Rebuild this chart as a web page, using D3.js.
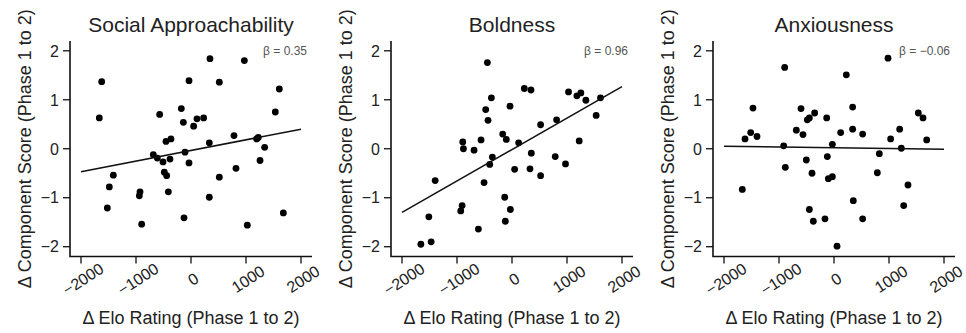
<!DOCTYPE html>
<html>
<head>
<meta charset="utf-8">
<script src="https://cdn.jsdelivr.net/npm/d3@7"></script>
<style>
  body { margin: 0; background: #fff; }
  svg { font-family: "Liberation Sans", Arial, sans-serif; }
</style>
</head>
<body>
<svg id="canvas" width="966" height="333"></svg>
<script>
// values
let titles = ["Social Approachability", "Boldness", "Anxiousness"]
let betas = ["β = 0.35", "β = 0.96", "β = −0.06"]
let xTicks = [-2000, -1000, 0, 1000, 2000]
let yTicks = [-2, -1, 0, 1, 2]

let socialX = [-1624, -1667, -1412, -1485, -1521, -927, -939, -897, -570, -685, -612, -509, -455, -364, -485, -442, -382, -412, -176, -139, -109, -127, -36, -36, 48, 109, 230, 345, 333, 333, 515, 515, 782, 818, 970, 1024, 1194, 1224, 1339, 1255, 1533, 1606, 1679]
let socialY = [1.37, 0.63, -0.54, -0.78, -1.21, -0.88, -0.96, -1.54, 0.70, -0.12, -0.19, -0.27, 0.15, 0.20, -0.48, -0.55, -0.21, -0.88, 0.82, 0.54, -0.07, -1.41, 1.39, -0.29, 0.46, 0.61, 0.63, 1.84, 0.12, -0.99, 1.36, -0.58, 0.27, -0.40, 1.80, -1.56, 0.20, 0.23, 0.03, -0.24, 0.75, 1.22, -1.31]

let boldX = [-1657, -1470, -1512, -1397, -895, -883, -907, -932, -690, -611, -563, -508, -478, -436, -448, -375, -357, -405, -169, -103, -133, -121, -30, -36, 121, 48, 224, 345, 351, 327, 520, 520, 811, 786, 973, 1028, 1180, 1252, 1343, 1222, 1530, 1609]
let boldY = [-1.95, -1.90, -1.39, -0.65, 0.14, 0.00, -1.16, -1.27, -0.03, -1.64, 0.18, -0.69, 0.80, 0.58, 1.76, 1.04, -0.17, -0.32, 0.30, 0.19, -0.99, -1.48, -1.24, 0.87, 0.12, -0.42, 1.23, 1.20, -0.09, -0.41, 0.49, -0.55, 0.59, -0.16, -0.31, 1.16, 1.08, 1.14, 0.99, 0.16, 0.68, 1.04]

let anxX = [-1667, -1618, -1515, -1400, -1473, -897, -915, -885, -685, -600, -564, -503, -485, -448, -352, -400, -448, -376, -164, -133, -121, -103, -30, -30, 55, 121, 224, 339, 339, 351, 521, 521, 824, 788, 982, 1030, 1194, 1224, 1345, 1267, 1533, 1618, 1685]
let anxY = [-0.83, 0.20, 0.33, 0.25, 0.83, 1.66, 0.06, -0.38, 0.38, 0.82, 0.29, -0.23, 0.59, 0.63, 0.73, -0.50, -1.24, -1.48, -1.43, 0.63, -0.16, -0.61, -0.57, 0.09, -1.99, 0.33, 1.51, 0.85, 0.40, -1.06, 0.30, -1.43, -0.10, -0.49, 1.85, 0.20, 0.40, 0.01, -0.74, -1.16, 0.73, 0.63, 0.18]

// fitted line: y at x = -2000 and at x = 2000
let fitStart = [-0.47, -1.30, 0.05]
let fitEnd = [0.40, 1.27, -0.01]

let pointsX = [socialX, boldX, anxX]
let pointsY = [socialY, boldY, anxY]

let canvas = d3.select("#canvas")
let offsets = [0, 321, 643]

let minus = (d) => d < 0 ? "−" + Math.abs(d) : d

let drawPanel = (p) => {
    let ox = offsets[p]
    let xScale = d3.scaleLinear().domain([-2200, 2200]).range([ox + 70, ox + 312])
    let yScale = d3.scaleLinear().domain([-2.2, 2.2]).range([256.5, 41])

    let g = canvas.append("g")

    // L shaped box (bty = "l")
    g.append("path")
        .attr("d", "M" + xScale(-2200) + "," + yScale(2.2) + "V" + yScale(-2.2) + "H" + xScale(2200))
        .attr("fill", "none")
        .attr("stroke", "#111")
        .attr("stroke-width", 1.6)

    // y ticks
    g.selectAll(".ytick")
        .data(yTicks)
        .enter()
        .append("line")
        .attr("x1", xScale(-2200))
        .attr("x2", xScale(-2200) - 7)
        .attr("y1", d => yScale(d))
        .attr("y2", d => yScale(d))
        .attr("stroke", "#111")
        .attr("stroke-width", 1.3)

    g.selectAll(".ylab")
        .data(yTicks)
        .enter()
        .append("text")
        .attr("x", xScale(-2200) - 11)
        .attr("y", d => yScale(d))
        .attr("dy", "0.36em")
        .attr("text-anchor", "end")
        .attr("font-size", 16)
        .attr("fill", "#222")
        .text(minus)

    // x ticks
    g.selectAll(".xtick")
        .data(xTicks)
        .enter()
        .append("line")
        .attr("x1", d => xScale(d))
        .attr("x2", d => xScale(d))
        .attr("y1", yScale(-2.2))
        .attr("y2", yScale(-2.2) + 7)
        .attr("stroke", "#111")
        .attr("stroke-width", 1.3)

    g.selectAll(".xlab")
        .data(xTicks)
        .enter()
        .append("text")
        .attr("transform", d => "translate(" + (xScale(d) + 2) + ",279) rotate(-33)")
        .attr("text-anchor", "middle")
        .attr("dy", "0.36em")
        .attr("font-size", 16)
        .attr("fill", "#222")
        .text(minus)

    // points
    g.selectAll("circle")
        .data(pointsX[p])
        .enter()
        .append("circle")
        .attr("cx", d => xScale(d))
        .attr("cy", (d, i) => yScale(pointsY[p][i]))
        .attr("r", 3.4)
        .attr("fill", "#000")

    // fit line
    g.append("line")
        .attr("x1", xScale(-2000))
        .attr("x2", xScale(2000))
        .attr("y1", yScale(fitStart[p]))
        .attr("y2", yScale(fitEnd[p]))
        .attr("stroke", "#111")
        .attr("stroke-width", 1.5)

    // title
    g.append("text")
        .attr("x", xScale(0))
        .attr("y", 32)
        .attr("text-anchor", "middle")
        .attr("font-size", 21)
        .attr("fill", "#222")
        .text(titles[p])

    g.append("text")
        .attr("x", ox + 307)
        .attr("y", 55)
        .attr("text-anchor", "end")
        .attr("font-size", 12)
        .attr("fill", "#555")
        .text(betas[p])

    // axis labels
    g.append("text")
        .attr("x", xScale(0))
        .attr("y", 324)
        .attr("text-anchor", "middle")
        .attr("font-size", 18)
        .attr("fill", "#222")
        .text("Δ Elo Rating (Phase 1 to 2)")

    g.append("text")
        .attr("transform", "translate(" + (ox + 31) + "," + yScale(0) + ") rotate(-90)")
        .attr("text-anchor", "middle")
        .attr("font-size", 18)
        .attr("fill", "#222")
        .text("Δ Component Score (Phase 1 to 2)")
}

titles.forEach((t, i) => drawPanel(i))
</script>
</body>
</html>
